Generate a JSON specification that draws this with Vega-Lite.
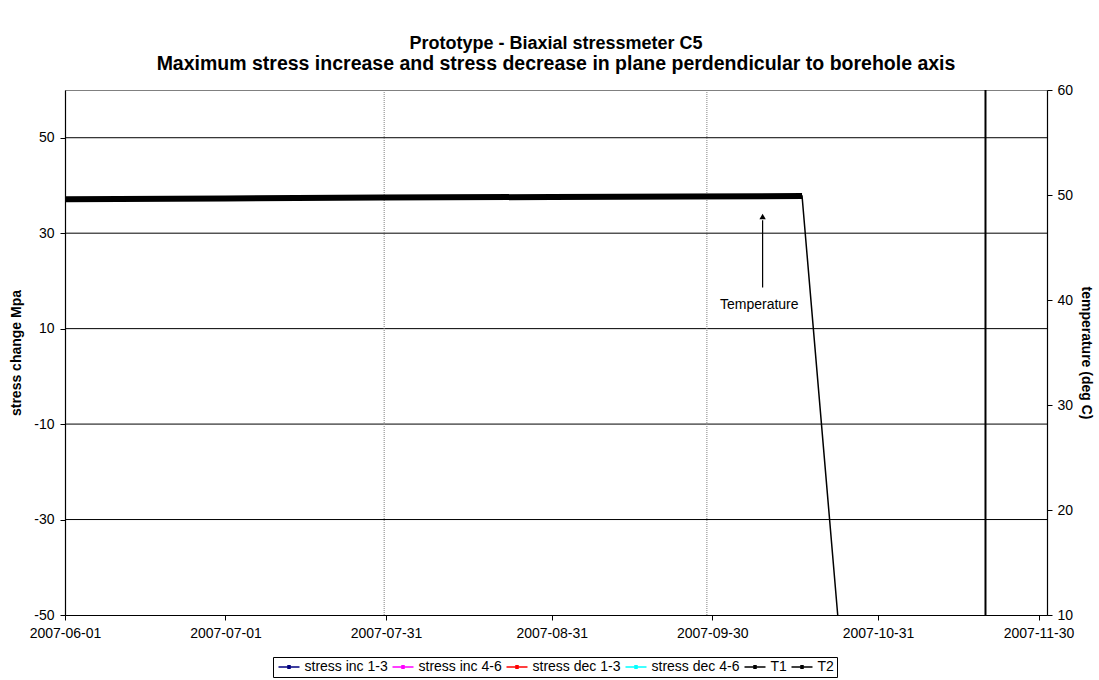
{
  "$schema": "https://vega.github.io/schema/vega-lite/v6.json",
  "width": 982,
  "height": 525,
  "autosize": {"type": "none"},
  "padding": {"left": 65, "top": 90, "right": 52, "bottom": 65},
  "background": "white",
  "config": {
    "font": "Liberation Sans",
    "view": {"stroke": "#808080", "strokeWidth": 1},
    "axis": {
      "labelFont": "Liberation Sans", "labelFontSize": 14, "labelColor": "#000",
      "titleFont": "Liberation Sans", "titleFontSize": 14, "titleFontWeight": "bold", "titleColor": "#000",
      "domainColor": "#000", "domainWidth": 1.2, "tickColor": "#000", "tickSize": 5, "tickWidth": 1, "grid": false,
      "labelFlush": false
    }
  },
  "title": {
    "text": "Prototype - Biaxial stressmeter C5",
    "subtitle": "Maximum stress increase and stress decrease in plane perdendicular to borehole axis",
    "font": "Liberation Sans", "fontSize": 18, "fontWeight": "bold", "color": "#000",
    "subtitleFont": "Liberation Sans", "subtitleFontSize": 19.5, "subtitleFontWeight": "bold", "subtitleColor": "#000",
    "subtitlePadding": 2,
    "anchor": "middle", "offset": 10
  },
  "datasets": {
    "grid": [{"stress": 50}, {"stress": 30}, {"stress": 10}, {"stress": -10}, {"stress": -30}],
    "dotted": [{"date": "2007-07-30T16:00:00Z"}, {"date": "2007-09-29T00:00:00Z"}],
    "temps": [
      {"series": "T2", "date": "2007-06-01T00:00:00Z", "temp": 49.59},
      {"series": "T2", "date": "2007-07-01T00:00:00Z", "temp": 49.67},
      {"series": "T2", "date": "2007-07-30T00:00:00Z", "temp": 49.76},
      {"series": "T2", "date": "2007-08-31T00:00:00Z", "temp": 49.81},
      {"series": "T2", "date": "2007-09-25T00:00:00Z", "temp": 49.86},
      {"series": "T2", "date": "2007-10-16T19:00:00Z", "temp": 49.9},
      {"series": "T1", "date": "2007-06-01T00:00:00Z", "temp": 49.55},
      {"series": "T1", "date": "2007-07-01T00:00:00Z", "temp": 49.63},
      {"series": "T1", "date": "2007-07-30T00:00:00Z", "temp": 49.72},
      {"series": "T1", "date": "2007-08-31T00:00:00Z", "temp": 49.78},
      {"series": "T1", "date": "2007-09-25T00:00:00Z", "temp": 49.84},
      {"series": "T1", "date": "2007-10-16T19:00:00Z", "temp": 49.9},
      {"series": "T1", "date": "2007-10-23T11:00:00Z", "temp": 10}
    ],
    "jump": [{"date": "2007-11-20T02:00:00Z"}],
    "arrow": [{"date": "2007-10-09T10:00:00Z", "temp": 41.2, "temp2": 47.6}],
    "arrowhead": [{"date": "2007-10-09T10:00:00Z", "temp": 47.95}],
    "label": [{"date": "2007-10-08T19:00:00Z", "temp": 39.5, "text": "Temperature"}]
  },
  "layer": [
    {
      "layer": [
        {
          "data": {"name": "grid"},
          "mark": {"type": "rule", "color": "#000", "strokeWidth": 1},
          "encoding": {
            "y": {
              "field": "stress", "type": "quantitative",
              "scale": {"domain": [-50, 60], "nice": false, "zero": false},
              "axis": {"orient": "left", "values": [-50, -30, -10, 10, 30, 50], "labelExpr": "'' + datum.value", "title": "stress change Mpa", "labelPadding": 6, "titlePadding": 10}
            }
          }
        },
        {
          "data": {"name": "dotted"},
          "mark": {"type": "rule", "color": "#808080", "strokeWidth": 1, "strokeDash": [1, 1]},
          "encoding": {
            "x": {
              "field": "date", "type": "temporal",
              "scale": {"type": "utc", "domain": [{"year": 2007, "month": 6, "date": 1, "utc": true}, {"year": 2007, "month": 12, "date": 1, "hours": 14, "utc": true}]},
              "axis": {"title": null, "format": "%Y-%m-%d", "labelPadding": 6, "labelFlush": false, "values": [
                {"year": 2007, "month": 6, "date": 1, "utc": true},
                {"year": 2007, "month": 7, "date": 1, "utc": true},
                {"year": 2007, "month": 7, "date": 31, "utc": true},
                {"year": 2007, "month": 8, "date": 31, "utc": true},
                {"year": 2007, "month": 9, "date": 30, "utc": true},
                {"year": 2007, "month": 10, "date": 31, "utc": true},
                {"year": 2007, "month": 11, "date": 30, "utc": true}
              ]}
            }
          }
        }
      ]
    },
    {
      "layer": [
        {
          "data": {"name": "temps"},
          "transform": [{"filter": "datum.series === 'T2'"}],
          "mark": {"type": "line", "strokeWidth": 6, "strokeCap": "butt"},
          "encoding": {
            "x": {"field": "date", "type": "temporal", "title": null},
            "y": {
              "field": "temp", "type": "quantitative",
              "scale": {"domain": [10, 60], "nice": false, "zero": false},
              "axis": {"orient": "right", "values": [10, 20, 30, 40, 50, 60], "title": "temperature (deg C)", "labelPadding": 5, "titlePadding": 6}
            },
            "color": {
              "field": "series", "type": "nominal",
              "scale": {"domain": ["stress inc 1-3", "stress inc 4-6", "stress dec 1-3", "stress dec 4-6", "T1", "T2"], "range": ["#000080", "#FF00FF", "#FF0000", "#00FFFF", "#000000", "#000000"]},
              "legend": {
                "title": null, "orient": "none", "legendX": 208, "legendY": 567, "direction": "horizontal", "columns": 6,
                "symbolType": "M-0.9,0L3.3,0M1.0,-0.25L1.4,-0.25L1.4,0.25L1.0,0.25Z", "symbolSize": 100, "symbolStrokeWidth": 1.5,
                "labelFont": "Liberation Sans", "labelFontSize": 14, "labelColor": "#000", "labelOffset": 14.5, "labelLimit": 0,
                "columnPadding": 1, "padding": 3, "strokeColor": "#000", "fillColor": "#fff"
              }
            }
          }
        },
        {
          "data": {"name": "temps"},
          "transform": [{"filter": "datum.series === 'T1'"}],
          "mark": {"type": "line", "strokeWidth": 1.5},
          "encoding": {
            "x": {"field": "date", "type": "temporal", "title": null},
            "y": {"field": "temp", "type": "quantitative"},
            "color": {"field": "series", "type": "nominal"}
          }
        },
        {
          "data": {"name": "jump"},
          "mark": {"type": "rule", "color": "#000", "strokeWidth": 2},
          "encoding": {
            "x": {"field": "date", "type": "temporal", "title": null}
          }
        },
        {
          "data": {"name": "arrow"},
          "mark": {"type": "rule", "color": "#000", "strokeWidth": 1.2},
          "encoding": {
            "x": {"field": "date", "type": "temporal", "title": null},
            "y": {"field": "temp", "type": "quantitative"},
            "y2": {"field": "temp2"}
          }
        },
        {
          "data": {"name": "arrowhead"},
          "mark": {"type": "point", "shape": "triangle-up", "filled": true, "color": "#000", "size": 40, "opacity": 1},
          "encoding": {
            "x": {"field": "date", "type": "temporal", "title": null},
            "y": {"field": "temp", "type": "quantitative"}
          }
        },
        {
          "data": {"name": "label"},
          "mark": {"type": "text", "font": "Liberation Sans", "fontSize": 14, "color": "#000", "align": "center", "baseline": "middle"},
          "encoding": {
            "x": {"field": "date", "type": "temporal", "title": null},
            "y": {"field": "temp", "type": "quantitative"},
            "text": {"field": "text"}
          }
        }
      ]
    }
  ],
  "resolve": {"scale": {"y": "independent"}}
}
